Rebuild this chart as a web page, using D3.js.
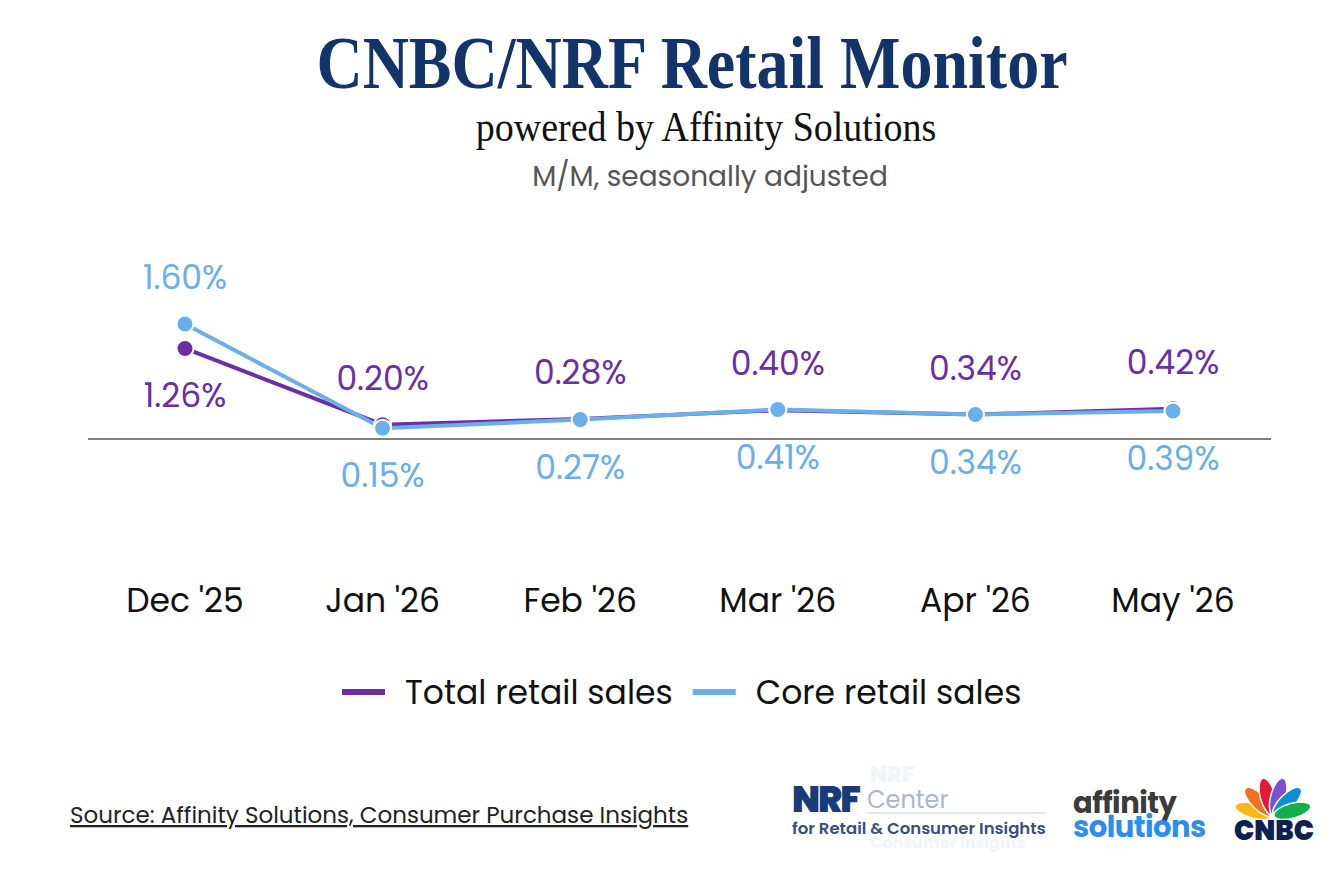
<!DOCTYPE html>
<html>
<head>
<meta charset="utf-8">
<script src="https://cdn.jsdelivr.net/npm/d3@7"></script>
<style>
  body { margin: 0; background: #fff; }
  svg { display: block; }
</style>
</head>
<body>
<svg id="chart" width="1341" height="875"></svg>
<script>
// datos
const meses = ["Dec '25", "Jan '26", "Feb '26", "Mar '26", "Apr '26", "May '26"];
const ventasTotales = [1.26, 0.20, 0.28, 0.40, 0.34, 0.42];
const ventasCore = [1.60, 0.15, 0.27, 0.41, 0.34, 0.39];
const series = [
  {nombre: "Total retail sales", valores: ventasTotales, color: "#6a2fa3"},
  {nombre: "Core retail sales", valores: ventasCore, color: "#6aaeea"}
];

const sans = "Poppins, 'Open Sans', Lato, sans-serif";
const serif = "'Liberation Serif', 'DejaVu Serif', serif";

const svg = d3.select("#chart");

// titulos (el original usa una serif mas alta, se estira un poco)
svg.append("text").attr("transform", "translate(692,88) scale(1,1.15)")
  .attr("text-anchor", "middle")
  .attr("font-family", serif).attr("font-weight", "bold").attr("font-size", 64)
  .attr("fill", "#13336b").text("CNBC/NRF Retail Monitor");
svg.append("text").attr("transform", "translate(706,141) scale(1,1.1)")
  .attr("text-anchor", "middle")
  .attr("font-family", serif).attr("font-size", 38)
  .attr("fill", "#111").text("powered by Affinity Solutions");
svg.append("text").attr("x", 710).attr("y", 186).attr("text-anchor", "middle")
  .attr("font-family", sans).attr("font-size", 28)
  .attr("fill", "#555").text("M/M, seasonally adjusted");

const x = d3.scalePoint().domain(meses).range([185, 1173]);
const y = d3.scaleLinear().domain([0, 1.6]).range([439, 324]);

// linea de cero
svg.append("line").attr("x1", 88).attr("x2", 1271).attr("y1", y(0)).attr("y2", y(0))
  .attr("stroke", "#555").attr("stroke-width", 1.5);

// etiquetas eje x
svg.append("g").selectAll("text").data(meses).enter().append("text")
  .attr("x", d => x(d)).attr("y", 612).attr("text-anchor", "middle")
  .attr("font-family", sans).attr("font-size", 33).attr("fill", "#111")
  .text(d => d);

const line = d3.line().x((d, i) => x(meses[i])).y(d => y(d));

series.forEach(s => {
  svg.append("path").datum(s.valores)
    .attr("fill", "none").attr("stroke", s.color).attr("stroke-width", 4)
    .attr("d", line);
});

series.forEach(s => {
  svg.append("g").selectAll("circle").data(s.valores).enter().append("circle")
    .attr("cx", (d, i) => x(meses[i])).attr("cy", d => y(d)).attr("r", 8.5)
    .attr("fill", s.color).attr("stroke", "#fff").attr("stroke-width", 2);
});

// etiquetas de valores: total arriba salvo diciembre, core al reves
series.forEach((s, k) => {
  svg.append("g").selectAll("text").data(s.valores).enter().append("text")
    .attr("x", (d, i) => x(meses[i]))
    .attr("y", (d, i) => {
      const arriba = (k === 0) ? i > 0 : i === 0;
      return y(d) + (arriba ? -47 : 47) + 12;
    })
    .attr("text-anchor", "middle").attr("font-family", sans).attr("font-size", 33)
    .attr("fill", s.color).text(d => d.toFixed(2) + "%");
});

// leyenda
const leyenda = svg.append("g");
let lx = 342;
series.forEach(s => {
  leyenda.append("line").attr("x1", lx).attr("x2", lx + 43).attr("y1", 692).attr("y2", 692)
    .attr("stroke", s.color).attr("stroke-width", 6);
  const t = leyenda.append("text").attr("x", lx + 63).attr("y", 704)
    .attr("font-family", sans).attr("font-size", 33).attr("fill", "#111").text(s.nombre);
  lx += 63 + t.node().getComputedTextLength() + 20;
});

// fuente
svg.append("text").attr("x", 70).attr("y", 823)
  .attr("font-family", sans).attr("font-size", 23).attr("fill", "#222")
  .attr("text-decoration", "underline")
  .text("Source: Affinity Solutions, Consumer Purchase Insights");

// logo NRF
const nrf = svg.append("g");
nrf.append("text").attr("x", 870).attr("y", 782)
  .attr("font-family", sans).attr("font-weight", "900").attr("font-size", 22)
  .attr("fill", "#f3f4f7").text("NRF");
nrf.append("text").attr("x", 870).attr("y", 848)
  .attr("font-family", sans).attr("font-weight", "bold").attr("font-size", 16)
  .attr("fill", "#f3f4f7").text("Consumer Insights");
nrf.append("text").attr("x", 792).attr("y", 812)
  .attr("font-family", sans).attr("font-weight", "900").attr("font-size", 36)
  .attr("letter-spacing", -2).attr("fill", "#1b3a7a").text("NRF");
nrf.append("text").attr("x", 867).attr("y", 808)
  .attr("font-family", sans).attr("font-size", 24).attr("fill", "#a9b6cc").text("Center");
nrf.append("line").attr("x1", 867).attr("x2", 1046).attr("y1", 813).attr("y2", 813)
  .attr("stroke", "#c9d2e0").attr("stroke-width", 1);
nrf.append("text").attr("x", 792).attr("y", 834)
  .attr("font-family", sans).attr("font-weight", "600").attr("font-size", 16.5)
  .attr("fill", "#3a4f7e").text("for Retail & Consumer Insights");

// logo affinity
svg.append("text").attr("x", 1073).attr("y", 813)
  .attr("font-family", sans).attr("font-weight", "bold").attr("font-size", 29)
  .attr("fill", "#3b3b3b").attr("letter-spacing", -0.5).text("affinity");
svg.append("text").attr("x", 1073).attr("y", 837)
  .attr("font-family", sans).attr("font-weight", "bold").attr("font-size", 29)
  .attr("fill", "#2d8cf0").attr("letter-spacing", -0.5).text("solutions");

// logo CNBC
const plumas = ["#fcb711", "#f37021", "#e31937", "#7b4fd6", "#0a8fd9", "#12b04d"];
const pavo = svg.append("g").attr("transform", "translate(1273,816)");
plumas.forEach((c, i) => {
  const ang = -75 + i * 30;
  pavo.append("ellipse").attr("cx", 0).attr("cy", -20).attr("rx", 7.5).attr("ry", 19)
    .attr("transform", `rotate(${ang})`).attr("fill", c)
    .attr("stroke", "#fff").attr("stroke-width", 1.5);
});
svg.append("text").attr("x", 1274).attr("y", 840).attr("text-anchor", "middle")
  .attr("font-family", sans).attr("font-weight", "900").attr("font-size", 27)
  .attr("fill", "#0d2150").text("CNBC");
</script>
</body>
</html>
